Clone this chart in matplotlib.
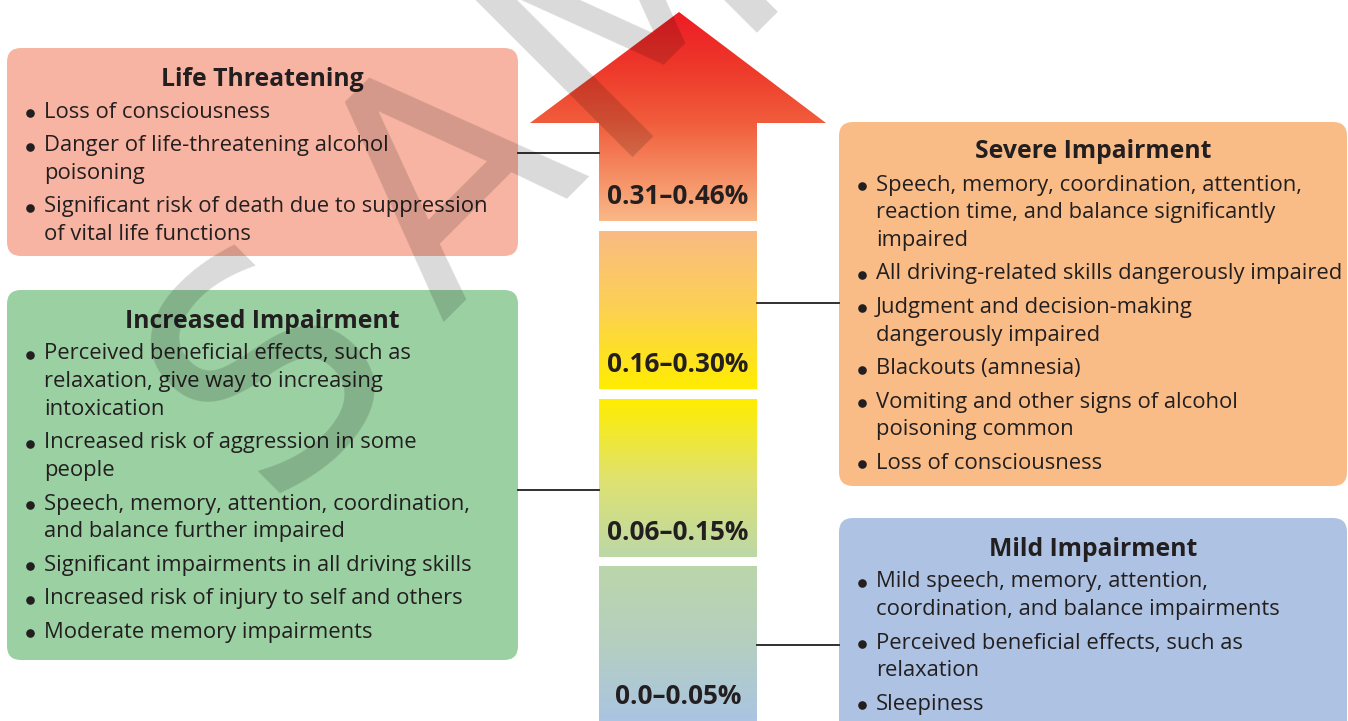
import numpy as np
import matplotlib.pyplot as plt
from matplotlib.patches import FancyBboxPatch, Polygon
from matplotlib.colors import to_rgb

plt.rcParams['font.family'] = ['Open Sans', 'DejaVu Sans']

# --- data -------------------------------------------------------------
bac_ranges = ["0.31\u20130.46%", "0.16\u20130.30%", "0.06\u20130.15%", "0.0\u20130.05%"]

life_title = "Life Threatening"
life_items = [
    "Loss of consciousness",
    "Danger of life-threatening alcohol\npoisoning",
    "Significant risk of death due to suppression\nof vital life functions",
]

increased_title = "Increased Impairment"
increased_items = [
    "Perceived beneficial effects, such as\nrelaxation, give way to increasing\nintoxication",
    "Increased risk of aggression in some\npeople",
    "Speech, memory, attention, coordination,\nand balance further impaired",
    "Significant impairments in all driving skills",
    "Increased risk of injury to self and others",
    "Moderate memory impairments",
]

severe_title = "Severe Impairment"
severe_items = [
    "Speech, memory, coordination, attention,\nreaction time, and balance significantly\nimpaired",
    "All driving-related skills dangerously impaired",
    "Judgment and decision-making\ndangerously impaired",
    "Blackouts (amnesia)",
    "Vomiting and other signs of alcohol\npoisoning common",
    "Loss of consciousness",
]

mild_title = "Mild Impairment"
mild_items = [
    "Mild speech, memory, attention,\ncoordination, and balance impairments",
    "Perceived beneficial effects, such as\nrelaxation",
    "Sleepiness",
]

watermark = "SAMPLE"

# --- figure -----------------------------------------------------------
W, H = 1348, 721
fig = plt.figure(figsize=(W / 100, H / 100), dpi=100)
ax = fig.add_axes([0, 0, 1, 1])
ax.set_xlim(0, W)
ax.set_ylim(H, 0)
ax.axis('off')

TXT = '#231f20'
FS = 15.8
TFS = 17.8


def draw_box(x0, y0, w, h, color, title, items, title_y):
    box = FancyBboxPatch((x0, y0), w, h, boxstyle="round,pad=0,rounding_size=14",
                         fc=color, ec='none', zorder=1)
    ax.add_patch(box)
    ax.text(x0 + w / 2, title_y, title, ha='center', va='center',
            fontsize=TFS, fontweight='bold', color=TXT, zorder=3)
    y = title_y + 33
    for item in items:
        lines = item.split('\n')
        ax.plot(x0 + 23, y + 1, 'o', ms=6.2, color=TXT, mec='none', zorder=3)
        for k, line in enumerate(lines):
            ax.text(x0 + 37, y + k * 27.7, line, ha='left', va='center',
                    fontsize=FS, color=TXT, zorder=3)
        y += (len(lines) - 1) * 27.7 + 33.5


draw_box(7, 48, 511, 208, '#f8b4a2', life_title, life_items, 79)
draw_box(7, 290, 511, 370, '#9ad0a2', increased_title, increased_items, 321)
draw_box(839, 122, 508, 364, '#f9bc87', severe_title, severe_items, 152)
draw_box(839, 518, 508, 230, '#aec3e3', mild_title, mild_items, 549)

# connector lines
for (xa, xb, yy) in [(518, 599, 153), (518, 599, 490), (757, 839, 303), (757, 839, 645)]:
    ax.plot([xa, xb], [yy, yy], color='#231f20', lw=1.3, zorder=2)


# --- gradient arrow ---------------------------------------------------
def gradient(y0, y1, stops):
    ys = np.linspace(y0, y1, 200)
    sy = [s[0] for s in stops]
    cols = np.array([to_rgb(s[1]) for s in stops])
    img = np.stack([np.interp(ys, sy, cols[:, c]) for c in range(3)], axis=1)
    return img[:, None, :]


sx0, sx1 = 599, 757
segments = [
    (12, 221, [(12, '#ed1c24'), (70, '#ee3a2b'), (123, '#f15d3c'), (221, '#f9b887')]),
    (231, 389, [(231, '#f9bb83'), (310, '#fdd152'), (389, '#ffed00')]),
    (399, 557, [(399, '#ffed00'), (480, '#dfe270'), (557, '#bcd8a8')]),
    (566, 721, [(566, '#bbd6aa'), (640, '#b5cfbf'), (721, '#aac4e2')]),
]
for i, (y0, y1, stops) in enumerate(segments):
    left, right = (530, 826) if i == 0 else (sx0, sx1)
    im = ax.imshow(gradient(y0, y1, stops), extent=(left, right, y1, y0),
                   aspect='auto', origin='upper', zorder=1, interpolation='bilinear')
    if i == 0:
        clip = Polygon([(530, 123), (679, 12), (826, 123), (sx1, 123), (sx1, y1),
                        (sx0, y1), (sx0, 123)], closed=True, transform=ax.transData,
                       fc='none', ec='none')
        ax.add_patch(clip)
        im.set_clip_path(clip)
    ax.text((sx0 + sx1) / 2, y1 - 24, bac_ranges[i], ha='center', va='center',
            fontsize=18.8, fontweight='bold', color=TXT, zorder=3)

ax.set_xlim(0, W)
ax.set_ylim(H, 0)

# --- watermark --------------------------------------------------------
for k, ch in enumerate(watermark):
    cx = 276 + k * 180
    cy = 372 - k * 185
    ax.text(cx, cy, ch, rotation=45, rotation_mode='anchor', ha='center', va='center',
            fontsize=222, fontfamily='DejaVu Sans', color='black',
            alpha=0.15, zorder=5)

fig.savefig('out.png', dpi=100)
